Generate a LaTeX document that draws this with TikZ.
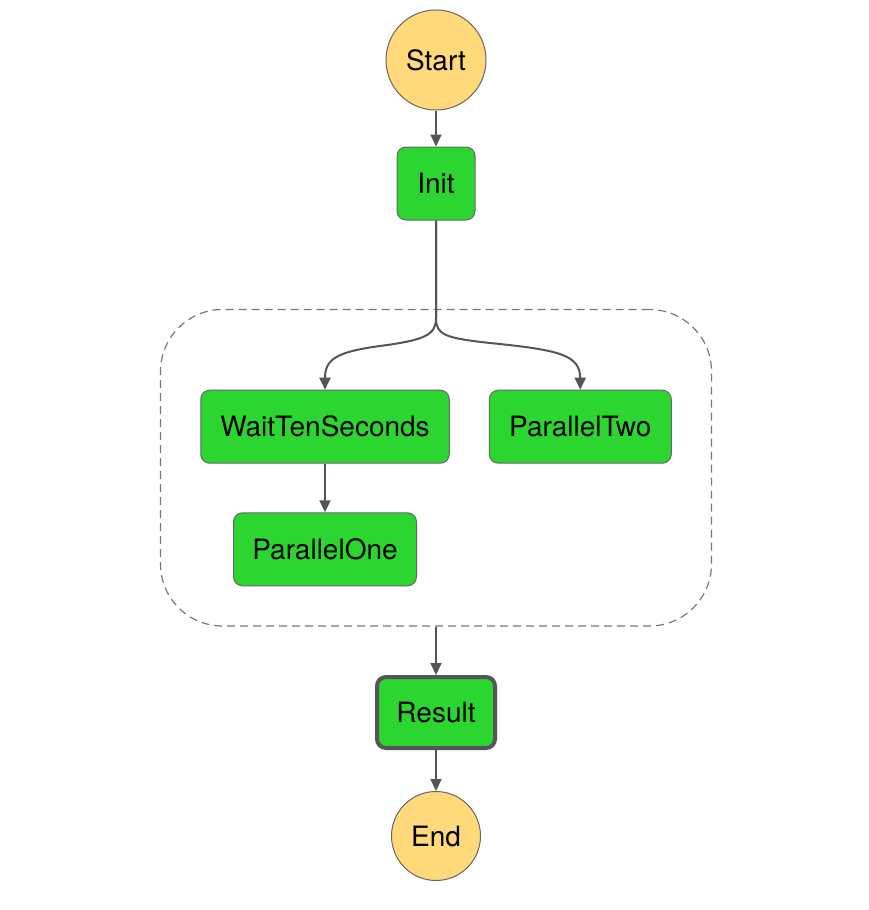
\documentclass[tikz,border=0pt]{standalone}
\usepackage{fontspec}
\setmainfont{TeX Gyre Heros}
\usetikzlibrary{arrows.meta}
\definecolor{stategreen}{RGB}{44,214,48}
\definecolor{stateyellow}{RGB}{255,217,122}
\definecolor{edgegray}{RGB}{85,85,85}
\definecolor{bordergray}{RGB}{102,102,102}
\definecolor{dashgray}{RGB}{120,120,120}
\begin{document}
\begin{tikzpicture}[x=1pt,y=-1pt,
  every node/.style={font=\fontsize{28}{33}\selectfont, text=black, inner sep=0pt},
  terminal/.style={circle, draw=bordergray, line width=1pt, fill=stateyellow},
  task/.style={rectangle, rounded corners=9pt, draw=bordergray, line width=1pt, fill=stategreen, minimum height=73pt},
  endtask/.style={task, draw=edgegray, line width=4pt, minimum height=71pt},
  groupbox/.style={rectangle, rounded corners=62pt, draw=dashgray, line width=1.2pt, dash pattern=on 8pt off 5pt},
  flow/.style={draw=edgegray, line width=2pt, -{Triangle[length=12pt,width=11pt]}}
]
\useasboundingbox (0,0) rectangle (868,910);
\fill[white] (0,0) rectangle (868,910);

\node[groupbox, minimum width=551pt, minimum height=316.5pt] (group) at (436,467.75) {};

\node[terminal, minimum size=100pt] (start) at (436,60) {Start};
\node[task, minimum width=78pt] (init) at (436,183.5) {Init};
\node[task, minimum width=248.5pt] (wait) at (325,426.7) {WaitTenSeconds};
\node[task, minimum width=182pt] (ptwo) at (580.3,426.7) {ParallelTwo};
\node[task, minimum width=183pt] (pone) at (325,549.3) {ParallelOne};
\node[endtask, minimum width=118pt] (result) at (436,712.5) {Result};
\node[terminal, minimum size=89pt] (end) at (436,836) {End};

\coordinate (split) at (436,318);

\draw[flow] (start) -- (init);
\draw[flow] (init.south) -- (split)
  .. controls (436,335) and (425,340) .. (380,346)
  .. controls (335,352) and (325,360) .. (wait.north);
\draw[flow] (init.south) -- (split)
  .. controls (436,335) and (445,338) .. (490,343)
  .. controls (560,350) and (580,355) .. (ptwo.north);
\draw[flow] (wait) -- (pone);
\draw[flow] (group.south) -- (result.north);
\draw[flow] (result) -- (end);
\end{tikzpicture}
\end{document}
